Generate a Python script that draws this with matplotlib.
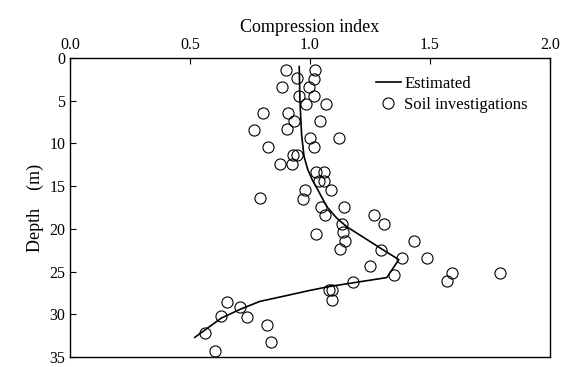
import numpy as np
import matplotlib.pyplot as plt

plt.rcParams['font.family'] = ['Liberation Serif', 'DejaVu Serif']

#%%
# soil investigation points (compression index, depth in m)
soil_ci = [0.90, 1.02, 0.945, 1.015, 0.885, 0.995, 0.955, 1.015, 0.985, 1.065,
           0.805, 0.91, 1.04, 0.935, 0.765, 0.905, 1.00, 1.12, 0.825, 1.015,
           0.93, 0.945, 0.875, 0.925, 1.025, 1.057, 1.036, 1.057, 1.086, 0.979,
           0.793, 0.969, 1.14, 1.046, 1.064, 1.268, 1.31, 1.132, 1.139, 1.025,
           1.147, 1.435, 1.125, 1.297, 1.382, 1.486, 1.25, 1.351, 1.59, 1.79,
           1.57, 1.18, 1.08, 1.09, 1.093, 0.653, 0.71, 0.63, 0.736, 0.82,
           0.5625, 0.8375, 0.603]
soil_depth = [1.4, 1.35, 2.35, 2.45, 3.35, 3.4, 4.4, 4.45, 5.35, 5.35,
              6.4, 6.4, 7.4, 7.4, 8.4, 8.35, 9.35, 9.4, 10.4, 10.4,
              11.4, 11.3, 12.4, 12.4, 13.4, 13.4, 14.4, 14.4, 15.4, 15.4,
              16.4, 16.45, 17.4, 17.4, 18.4, 18.4, 19.4, 19.4, 20.4, 20.65,
              21.4, 21.4, 22.3, 22.5, 23.4, 23.4, 24.4, 25.4, 25.2, 25.2,
              26.1, 26.25, 27.1, 27.2, 28.3, 28.6, 29.2, 30.2, 30.3, 31.2,
              32.2, 33.25, 34.3]

# estimated profile
est_ci = [0.955, 0.958, 0.965, 0.975, 0.99, 1.01, 1.03, 1.07, 1.11, 1.153,
          1.229, 1.29, 1.37, 1.32, 1.08, 1.00, 0.79, 0.71, 0.63, 0.52]
est_depth = [1.0, 5.0, 9.0, 11.5, 13.0, 14.3, 15.3, 17.4, 18.7, 19.75,
             21.1, 22.2, 23.6, 25.7, 26.75, 27.2, 28.5, 29.4, 30.45, 32.7]

xticks = [0.0, 0.5, 1.0, 1.5, 2.0]
yticks = [0, 5, 10, 15, 20, 25, 30, 35]

#%%
fig = plt.figure(figsize=(5.65, 3.67), dpi=100)
ax = fig.add_axes([0.1239, 0.0272, 0.8496, 0.8147])

ax.plot(est_ci, est_depth, color='black', lw=1.2, label='Estimated')
ax.plot(soil_ci, soil_depth, ls='none', marker='o', ms=8, mfc='none',
        mec='black', mew=0.8, label='Soil investigations')

ax.set_xlim(0, 2.0)
ax.set_ylim(35, 0)
ax.set_xticks(xticks)
ax.set_xticklabels(['%.1f' % v for v in xticks])
ax.set_yticks(yticks)
ax.xaxis.tick_top()
ax.xaxis.set_label_position('top')
ax.tick_params(direction='in', labelsize=11.5, length=4, width=0.8)
for sp in ax.spines.values():
    sp.set_linewidth(1.0)

ax.set_xlabel('Compression index', fontsize=13, labelpad=4)
ax.set_ylabel('Depth    (m)', fontsize=13, labelpad=4)

ax.legend(loc='upper right', bbox_to_anchor=(0.985, 0.99), frameon=False,
          fontsize=12, handlelength=1.5, handletextpad=0.2, labelspacing=0.3)

plt.savefig('out.png', dpi=100)
